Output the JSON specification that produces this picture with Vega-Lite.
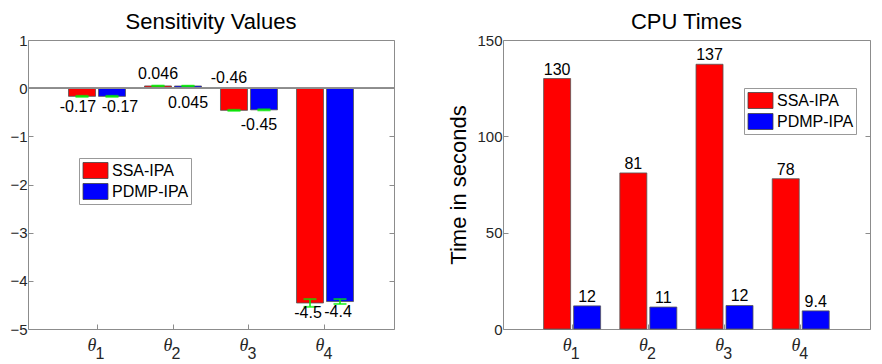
{
  "$schema": "https://vega.github.io/schema/vega-lite/v6.json",
  "padding": {"left": 0, "top": 10, "right": 0, "bottom": 0},
  "background": "white",
  "config": {
    "view": {"stroke": "#8c8c8c", "strokeWidth": 1},
    "font": "Liberation Sans",
    "title": {"fontSize": 22, "fontWeight": "normal", "font": "Liberation Sans", "color": "#000", "offset": -1, "frame": "group"},
    "legend": {
      "orient": "none",
      "strokeColor": "#999",
      "fillColor": "white",
      "padding": 2,
      "symbolType": "M-0.85,-0.8L1.65,-0.8L1.65,0.8L-0.85,0.8Z",
      "symbolSize": 400,
      "symbolStrokeColor": "#444",
      "symbolStrokeWidth": 0.8,
      "symbolOpacity": 1,
      "labelFontSize": 16,
      "labelFont": "Liberation Sans",
      "labelColor": "#000",
      "rowPadding": -3,
      "labelOffset": 10,
      "title": null
    }
  },
  "datasets": {
    "sens": [
      {"param": "1", "series": "SSA-IPA", "value": -0.17, "lo": -0.18, "hi": -0.16, "label": "-0.17"},
      {"param": "1", "series": "PDMP-IPA", "value": -0.17, "lo": -0.18, "hi": -0.16, "label": "-0.17"},
      {"param": "2", "series": "SSA-IPA", "value": 0.046, "lo": 0.04, "hi": 0.052, "label": "0.046"},
      {"param": "2", "series": "PDMP-IPA", "value": 0.045, "lo": 0.04, "hi": 0.05, "label": "0.045"},
      {"param": "3", "series": "SSA-IPA", "value": -0.46, "lo": -0.47, "hi": -0.45, "label": "-0.46"},
      {"param": "3", "series": "PDMP-IPA", "value": -0.45, "lo": -0.46, "hi": -0.44, "label": "-0.45"},
      {"param": "4", "series": "SSA-IPA", "value": -4.46, "lo": -4.54, "hi": -4.38, "label": "-4.5"},
      {"param": "4", "series": "PDMP-IPA", "value": -4.43, "lo": -4.48, "hi": -4.38, "label": "-4.4"}
    ],
    "cpu": [
      {"param": "1", "series": "SSA-IPA", "value": 130, "label": "130"},
      {"param": "1", "series": "PDMP-IPA", "value": 12, "label": "12"},
      {"param": "2", "series": "SSA-IPA", "value": 81, "label": "81"},
      {"param": "2", "series": "PDMP-IPA", "value": 11.4, "label": "11"},
      {"param": "3", "series": "SSA-IPA", "value": 137.4, "label": "137"},
      {"param": "3", "series": "PDMP-IPA", "value": 12.2, "label": "12"},
      {"param": "4", "series": "SSA-IPA", "value": 78, "label": "78"},
      {"param": "4", "series": "PDMP-IPA", "value": 9.4, "label": "9.4"}
    ]
  },
  "resolve": {"scale": {"color": "independent"}, "legend": {"color": "independent"}},
  "spacing": 52,
  "hconcat": [
    {
      "title": "Sensitivity Values",
      "width": 366,
      "height": 289,
      "data": {"name": "sens"},
      "resolve": {"axis": {"y": "independent"}},
      "layer": [
        {
          "mark": {"type": "bar", "stroke": "#555", "strokeWidth": 0.8},
          "encoding": {
            "x": {"field": "param", "type": "nominal", "scale": {"paddingInner": 0.25, "paddingOuter": 0.533},
              "axis": {"orient": "bottom", "title": null, "labelExpr": "'θ'", "labelFontStyle": "italic", "labelFontSize": 18, "labelOffset": -5, "labelPadding": 12, "tickSize": -5, "tickColor": "#8c8c8c", "domain": false, "labelAngle": 0, "labelColor": "#262626", "labelFont": "Liberation Serif"}},
            "xOffset": {"field": "series", "type": "nominal", "scale": {"domain": ["SSA-IPA", "PDMP-IPA"], "paddingInner": 0.1, "paddingOuter": 0}},
            "y": {"field": "value", "type": "quantitative", "scale": {"domain": [-5, 1], "nice": false, "zero": true},
              "axis": {"orient": "left", "values": [-5, -4, -3, -2, -1, 0, 1], "title": null, "domain": false, "grid": false, "tickSize": -5, "tickColor": "#8c8c8c", "labelFontSize": 15, "labelPadding": 6, "labelColor": "#262626", "minExtent": 27, "maxExtent": 27}},
            "color": {"field": "series", "type": "nominal", "scale": {"domain": ["SSA-IPA", "PDMP-IPA"], "range": ["#ff0000", "#0000ff"]},
              "legend": {"legendX": 51, "legendY": 118}}
          }
        },
        {
          "mark": {"type": "rule", "color": "#00ee00", "strokeWidth": 1.5},
          "encoding": {
            "x": {"field": "param", "type": "nominal"},
            "xOffset": {"field": "series", "type": "nominal"},
            "y": {"field": "lo", "type": "quantitative", "axis": null},
            "y2": {"field": "hi"}
          }
        },
        {
          "mark": {"type": "tick", "color": "#00ee00", "size": 13, "thickness": 2},
          "encoding": {
            "x": {"field": "param", "type": "nominal"},
            "xOffset": {"field": "series", "type": "nominal"},
            "y": {"field": "lo", "type": "quantitative", "axis": null}
          }
        },
        {
          "mark": {"type": "tick", "color": "#00ee00", "size": 13, "thickness": 2},
          "encoding": {
            "x": {"field": "param", "type": "nominal"},
            "xOffset": {"field": "series", "type": "nominal"},
            "y": {"field": "hi", "type": "quantitative", "axis": null}
          }
        },
        {
          "mark": {"type": "rule", "color": "#8c8c8c", "strokeWidth": 1},
          "encoding": {"y": {"datum": 0, "type": "quantitative", "axis": null}}
        },
        {
          "transform": [{"filter": "datum.param == '1' && datum.series == 'SSA-IPA'"}],
          "mark": {"type": "text", "fontSize": 16, "color": "#000", "baseline": "alphabetic", "dy": 16, "dx": -4},
          "encoding": {
            "x": {"field": "param", "type": "nominal"},
            "xOffset": {"field": "series", "type": "nominal"},
            "y": {"field": "value", "type": "quantitative", "axis": null},
            "text": {"field": "label"}
          }
        },
        {
          "transform": [{"filter": "datum.param == '1' && datum.series == 'PDMP-IPA'"}],
          "mark": {"type": "text", "fontSize": 16, "color": "#000", "baseline": "alphabetic", "dy": 16, "dx": 8},
          "encoding": {
            "x": {"field": "param", "type": "nominal"},
            "xOffset": {"field": "series", "type": "nominal"},
            "y": {"field": "value", "type": "quantitative", "axis": null},
            "text": {"field": "label"}
          }
        },
        {
          "transform": [{"filter": "datum.param == '2' && datum.series == 'SSA-IPA'"}],
          "mark": {"type": "text", "fontSize": 16, "color": "#000", "baseline": "alphabetic", "dy": -9},
          "encoding": {
            "x": {"field": "param", "type": "nominal"},
            "xOffset": {"field": "series", "type": "nominal"},
            "y": {"datum": 0, "type": "quantitative", "axis": null},
            "text": {"field": "label"}
          }
        },
        {
          "transform": [{"filter": "datum.param == '2' && datum.series == 'PDMP-IPA'"}],
          "mark": {"type": "text", "fontSize": 16, "color": "#000", "baseline": "alphabetic", "dy": 22},
          "encoding": {
            "x": {"field": "param", "type": "nominal"},
            "xOffset": {"field": "series", "type": "nominal"},
            "y": {"field": "value", "type": "quantitative", "axis": null},
            "text": {"field": "label"}
          }
        },
        {
          "transform": [{"filter": "datum.param == '3' && datum.series == 'SSA-IPA'"}],
          "mark": {"type": "text", "fontSize": 16, "color": "#000", "baseline": "alphabetic", "dy": -5, "dx": -5},
          "encoding": {
            "x": {"field": "param", "type": "nominal"},
            "xOffset": {"field": "series", "type": "nominal"},
            "y": {"datum": 0, "type": "quantitative", "axis": null},
            "text": {"field": "label"}
          }
        },
        {
          "transform": [{"filter": "datum.param == '3' && datum.series == 'PDMP-IPA'"}],
          "mark": {"type": "text", "fontSize": 16, "color": "#000", "baseline": "alphabetic", "dy": 20, "dx": -5},
          "encoding": {
            "x": {"field": "param", "type": "nominal"},
            "xOffset": {"field": "series", "type": "nominal"},
            "y": {"field": "value", "type": "quantitative", "axis": null},
            "text": {"field": "label"}
          }
        },
        {
          "transform": [{"filter": "datum.param == '4'"}],
          "mark": {"type": "text", "fontSize": 16, "color": "#000", "baseline": "alphabetic", "dy": 15, "dx": -2},
          "encoding": {
            "x": {"field": "param", "type": "nominal"},
            "xOffset": {"field": "series", "type": "nominal"},
            "y": {"field": "value", "type": "quantitative", "axis": null},
            "text": {"field": "label"}
          }
        },
        {
          "transform": [{"filter": "datum.series == 'SSA-IPA'"}],
          "mark": {"type": "text", "fontSize": 16, "color": "#262626", "baseline": "alphabetic", "dx": 3, "dy": 30},
          "encoding": {
            "x": {"field": "param", "type": "nominal"},
            "y": {"datum": -5, "type": "quantitative", "axis": null},
            "text": {"field": "param"}
          }
        },
        {
          "mark": {"type": "point", "opacity": 0},
          "encoding": {
            "x": {"field": "param", "type": "nominal"},
            "y": {"field": "value", "type": "quantitative", "axis": {"orient": "right", "labels": false, "tickSize": -5, "tickColor": "#8c8c8c", "values": [-5, -4, -3, -2, -1, 0, 1], "domain": false, "grid": false, "title": null}}
          }
        }
      ]
    },
    {
      "title": "CPU Times",
      "width": 367,
      "height": 289,
      "data": {"name": "cpu"},
      "resolve": {"axis": {"y": "independent"}},
      "layer": [
        {
          "mark": {"type": "bar", "stroke": "#555", "strokeWidth": 0.8},
          "encoding": {
            "x": {"field": "param", "type": "nominal", "scale": {"paddingInner": 0.25, "paddingOuter": 0.533},
              "axis": {"orient": "bottom", "title": null, "labelExpr": "'θ'", "labelFontStyle": "italic", "labelFontSize": 18, "labelOffset": -5, "labelPadding": 12, "tickSize": -5, "tickColor": "#8c8c8c", "domain": false, "labelAngle": 0, "labelColor": "#262626", "labelFont": "Liberation Serif"}},
            "xOffset": {"field": "series", "type": "nominal", "scale": {"domain": ["SSA-IPA", "PDMP-IPA"], "paddingInner": 0.1, "paddingOuter": 0}},
            "y": {"field": "value", "type": "quantitative", "scale": {"domain": [0, 150], "nice": false},
              "axis": {"orient": "left", "values": [0, 50, 100, 150], "title": "Time in seconds", "titleFontSize": 22, "titleFontWeight": "normal", "titleFont": "Liberation Sans", "titleColor": "#000", "titlePadding": 6, "domain": false, "grid": false, "tickSize": -5, "tickColor": "#8c8c8c", "labelFontSize": 15, "labelPadding": 6, "labelColor": "#262626"}},
            "color": {"field": "series", "type": "nominal", "scale": {"domain": ["SSA-IPA", "PDMP-IPA"], "range": ["#ff0000", "#0000ff"]},
              "legend": {"legendX": 241, "legendY": 48}}
          }
        },
        {
          "mark": {"type": "text", "fontSize": 16, "color": "#000", "baseline": "alphabetic", "dy": -4},
          "encoding": {
            "x": {"field": "param", "type": "nominal"},
            "xOffset": {"field": "series", "type": "nominal"},
            "y": {"field": "value", "type": "quantitative", "axis": null},
            "text": {"field": "label"}
          }
        },
        {
          "transform": [{"filter": "datum.series == 'SSA-IPA'"}],
          "mark": {"type": "text", "fontSize": 16, "color": "#262626", "baseline": "alphabetic", "dx": 3, "dy": 30},
          "encoding": {
            "x": {"field": "param", "type": "nominal"},
            "y": {"datum": 0, "type": "quantitative", "axis": null},
            "text": {"field": "param"}
          }
        },
        {
          "mark": {"type": "point", "opacity": 0},
          "encoding": {
            "x": {"field": "param", "type": "nominal"},
            "y": {"field": "value", "type": "quantitative", "axis": {"orient": "right", "labels": false, "tickSize": -5, "tickColor": "#8c8c8c", "values": [0, 50, 100, 150], "domain": false, "grid": false, "title": null}}
          }
        }
      ]
    }
  ]
}
